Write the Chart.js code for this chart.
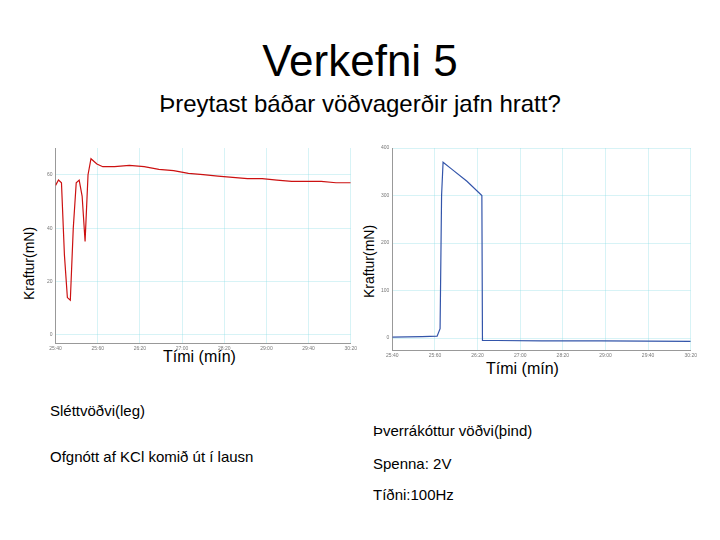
<!DOCTYPE html>
<html><head><meta charset="utf-8">
<script src="https://cdn.jsdelivr.net/npm/chart.js@4"></script>
<style>
body{margin:0;width:720px;height:540px;background:#fff;position:relative;font-family:"Liberation Sans",Arial,sans-serif;overflow:hidden}
.t{position:absolute;white-space:nowrap;color:#000}
.c{position:absolute}
</style></head><body>
<div class="t" style="left:0;width:720px;text-align:center;top:36px;font-size:44px">Verkefni 5</div>
<div class="t" style="left:0;width:720px;text-align:center;top:90px;font-size:24px">Þreytast báðar vöðvagerðir jafn hratt?</div>
<div class="t" style="left:21px;top:300px;font-size:14px;transform:rotate(-90deg);transform-origin:0 0">Kraftur(mN)</div>
<div class="t" style="left:361px;top:298px;font-size:14px;transform:rotate(-90deg);transform-origin:0 0">Kraftur(mN)</div>
<div class="t" style="left:163px;top:348px;font-size:16px">Tími (mín)</div>
<div class="t" style="left:486px;top:360px;font-size:16px">Tími (mín)</div>
<div class="t" style="left:50px;top:402px;font-size:15px">Sléttvöðvi(leg)</div>
<div class="t" style="left:50px;top:448px;font-size:15px">Ofgnótt af KCl komið út í lausn</div>
<div class="t" style="left:373px;top:422px;font-size:15px">Þverrákóttur vöðvi(þind)</div>
<div class="t" style="left:373px;top:455px;font-size:15px">Spenna: 2V</div>
<div class="t" style="left:373px;top:486px;font-size:15px">Tíðni:100Hz</div>
<div class="c" style="left:44px;top:140px;width:316px;height:215px"><canvas id="c1"></canvas></div>
<div class="c" style="left:378px;top:140px;width:322px;height:222px"><canvas id="c2"></canvas></div>
<script>
// Sléttvöðvi: tími / kraftur
const leftX = [0,1,2,3,4,5,6,7,8,9,10,11,12,14,16,20,25,30,35,40,45,50,55,60,65,70,75,80,85,90,95,100];
const leftY = [56,58,57,30,14,13,40,57,58,52,35,60,66,64,63,63,63.5,63,62,61.5,60.5,60,59.5,59,58.5,58.5,58,57.5,57.5,57.5,57,57];
const leftTicksY = [0,20,40,60];
// Þind: tími / kraftur
const rightX = [0,10,15,16,16.5,17,20,25,30,29.9,30.2,35,50,70,100];
const rightY = [2,3,4,20,300,370,355,330,300,300,-5,-5,-6,-6,-7];
const rightTicksY = [0,100,200,300,400];
const xTickLabels = ["25:40","25:60","26:20","27:00","28:20","29:00","29:40","30:20"];

function mk(id, xs, ys, color, ymin, ymax, yticks, xmax){
  new Chart(document.getElementById(id), {
    type:'line',
    data:{datasets:[{data:xs.map((x,i)=>({x:x,y:ys[i]})),borderColor:color,borderWidth:1.2,pointRadius:0,tension:0}]},
    options:{responsive:true,maintainAspectRatio:false,animation:false,
      plugins:{legend:{display:false},tooltip:{enabled:false}},
      layout:{padding:{top:8,right:4}},
      scales:{
        x:{type:'linear',min:0,max:xmax,border:{color:'#999'},
          grid:{color:'rgba(140,220,230,0.35)',drawTicks:false},
          afterBuildTicks:a=>{a.ticks=xTickLabels.map((_,i)=>({value:i*xmax/(xTickLabels.length-1)}));},
          ticks:{font:{size:5},color:'#777',callback:(v,i)=>xTickLabels[i]}},
        y:{min:ymin,max:ymax,border:{color:'#999'},
          grid:{color:'rgba(140,220,230,0.35)',drawTicks:false},
          afterBuildTicks:a=>{a.ticks=yticks.map(v=>({value:v}));},
          ticks:{font:{size:5},color:'#777'}}
      }}
  });
}
mk('c1', leftX, leftY, '#cc1111', -3, 70, leftTicksY, 100);
mk('c2', rightX, rightY, '#3355aa', -25, 400, rightTicksY, 100);
</script>
</body></html>
